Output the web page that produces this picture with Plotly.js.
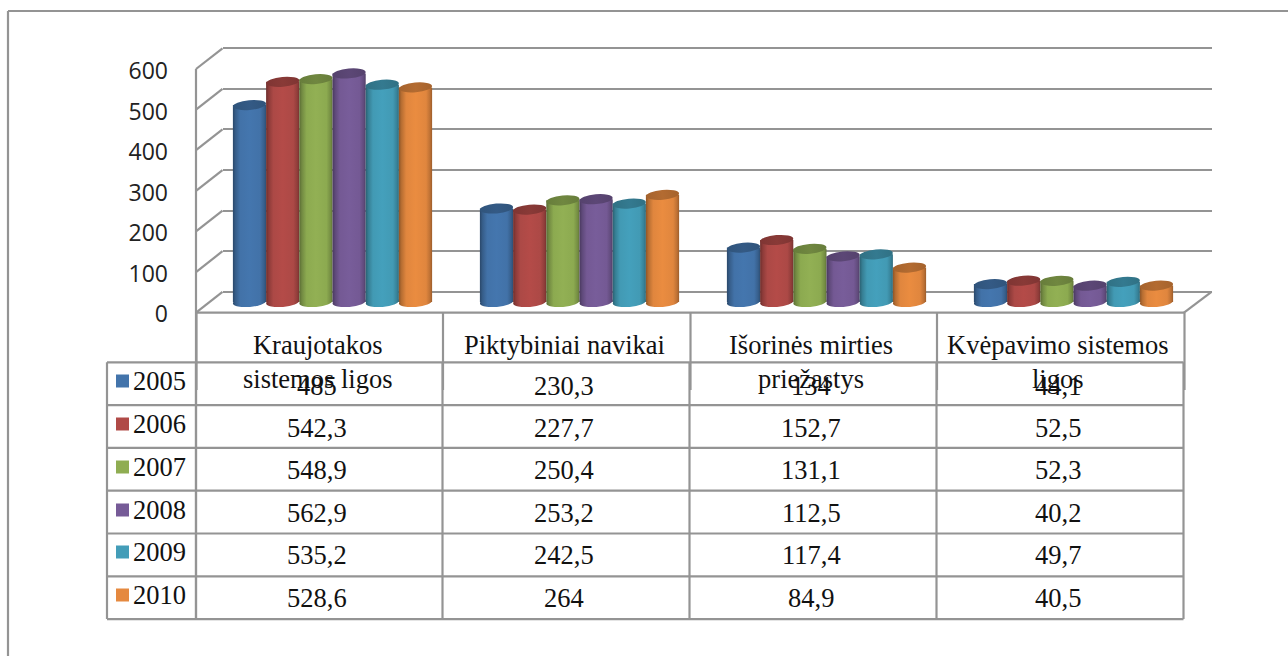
<!DOCTYPE html>
<html><head><meta charset="utf-8">
<script src="https://cdn.plot.ly/plotly-3.0.1.min.js"></script>
<style>html,body{margin:0;padding:0;background:#fff}#c{width:1288px;height:656px}</style>
</head><body><div id="c"></div>
<script>
const categories = ['Kraujotakos<br>sistemos ligos','Piktybiniai navikai','Išorinės mirties<br>priežastys','Kvėpavimo sistemos<br>ligos'];
const years = ['2005','2006','2007','2008','2009','2010'];
const v2005 = [485,230.3,134,44.1];
const v2006 = [542.3,227.7,152.7,52.5];
const v2007 = [548.9,250.4,131.1,52.3];
const v2008 = [562.9,253.2,112.5,40.2];
const v2009 = [535.2,242.5,117.4,49.7];
const v2010 = [528.6,264,84.9,40.5];
const seriesValues = [v2005,v2006,v2007,v2008,v2009,v2010];
const colors = ['#4374ab','#b04a47','#8fad52','#765b97','#439db8','#e5893f'];
const axisTicks = [0,100,200,300,400,500,600];

const W=1288,H=656;
const px=x=>x/W, py=y=>1-y/H;
const GREY='#949494';
const barW=33.2/247, ppu=40.6/100, capR=4.9/ppu;
const catKeys=['c0','c1','c2','c3'];

const traces=years.map((y,s)=>({type:'bar',name:y,x:catKeys,y:seriesValues[s],
  xaxis:'x2',yaxis:'y3',marker:{color:colors[s],line:{width:0}},hoverinfo:'skip',showlegend:false}));
// empty traces: they only make the grid and the value-label axes exist
traces.push({type:'scatter',mode:'none',x:[],y:[],xaxis:'x',yaxis:'y',showlegend:false,hoverinfo:'skip'});
traces.push({type:'scatter',mode:'none',x:[],y:[],xaxis:'x3',yaxis:'y2',showlegend:false,hoverinfo:'skip'});

const shapes=[],annotations=[];
const line=(x0,y0,x1,y1,w)=>shapes.push({type:'line',xref:'paper',yref:'paper',x0:px(x0),y0:py(y0),x1:px(x1),y1:py(y1),
  line:{color:GREY,width:w||2.2},layer:'below'});

// outer frame
line(8,11,W,11); line(8,11,8,H);
// side wall and floor
const frontY=v=>312.7-v*(312.7-69)/600, backY=v=>291.8-v*(291.8-48.3)/600;
axisTicks.forEach(v=>line(196,frontY(v),222.5,backY(v)));
line(196,69,196,619);
line(196,312.7,1184,312.7);
line(1184,312.7,1211.5,291.8);
// table
const headerX=[196.5,443,690.5,937,1184.5];
const tableX=[107,196,442.5,689.5,936.5,1183.5];
const rowY=[362.3,405.1,447.9,490.7,533.5,576.3,619.1];
headerX.forEach(x=>line(x,312.7,x,390));
tableX.forEach(x=>line(x,362.3,x,619.1));
rowY.forEach(y=>line(107,y,1183.5,y));

// cylinder ends, built from the series values
const baseIdx=[],capIdx=[];
years.forEach((y,s)=>{
  seriesValues[s].forEach((v,c)=>{
    const cx=c+(s-2.5)*barW;
    baseIdx.push([shapes.length,s]);
    shapes.push({type:'circle',xref:'x2',yref:'y3',x0:cx-barW/2,x1:cx+barW/2,y0:-capR,y1:capR,layer:'below',
      fillcolor:colors[s],line:{width:0}});
    capIdx.push([shapes.length,s]);
    shapes.push({type:'circle',xref:'x2',yref:'y3',x0:cx-barW/2,x1:cx+barW/2,y0:v-capR,y1:v+capR,layer:'above',
      fillcolor:colors[s],line:{width:0}});
  });
});

// table text
const serif={family:'"Liberation Serif",serif',size:26.5,color:'#111'};
const colCentre=[317,564,811,1058];
const txt=(x,y,t,anchor,va)=>annotations.push({xref:'paper',yref:'paper',x:px(x),y:py(y),text:t,showarrow:false,
  font:serif,xanchor:anchor||'center',yanchor:va||'middle',align:'center',borderpad:0,borderwidth:0});
categories.forEach((t,c)=>txt(colCentre[c],329.5,t,'center','top'));
const legendY=[381,424,467,510,552,595];
years.forEach((y,s)=>{
  shapes.push({type:'rect',xref:'paper',yref:'paper',x0:px(116),x1:px(129),y0:py(legendY[s]-6.5),y1:py(legendY[s]+6.5),
    fillcolor:colors[s],line:{width:0},layer:'above'});
  txt(132.5,legendY[s]-0.5,y,'left');
  seriesValues[s].forEach((v,c)=>txt(colCentre[c],385.5+42.4*s,String(v).replace('.',',')));
});

const off={visible:false,showgrid:false,zeroline:false,fixedrange:true};
const wallPx=(291.8-48.3)/600;
const layout={width:W,height:H,margin:{l:0,r:0,t:0,b:0},paper_bgcolor:'#fff',plot_bgcolor:'rgba(0,0,0,0)',
  showlegend:false,barmode:'group',bargap:1-6*barW,bargroupgap:0,shapes,annotations,
  // back wall grid; the range runs a little past 0 and 600 so those two lines are drawn
  xaxis:Object.assign({},off,{domain:[px(222.5),px(1211.5)],range:[0,1],anchor:'y'}),
  yaxis:{visible:true,domain:[py(291.8+5*wallPx),py(48.3-5*wallPx)],range:[-5,605],anchor:'x',tickvals:axisTicks,showgrid:true,gridcolor:GREY,gridwidth:2,
    zeroline:false,showline:false,showticklabels:false,ticks:'',fixedrange:true},
  // cylinders
  xaxis2:Object.assign({},off,{domain:[px(209),px(1197)],type:'category',categoryorder:'array',categoryarray:catKeys,range:[-0.5,3.5],anchor:'y3'}),
  yaxis3:Object.assign({},off,{domain:[py(302+50*ppu),py(302-650*ppu)],range:[-50,650],anchor:'x2'}),
  // value labels
  xaxis3:Object.assign({},off,{domain:[px(169),px(190)],range:[0,1],anchor:'y2'}),
  yaxis2:{visible:true,domain:[py(314),py(71)],range:[0,600],anchor:'x3',tickvals:axisTicks,ticktext:axisTicks.map(String),showgrid:false,zeroline:false,
    showline:false,ticks:'',tickfont:{family:'"Open Sans",sans-serif',size:23,color:'#222'},fixedrange:true}
};

function shade(hex,f){const n=parseInt(hex.slice(1),16);
  const c=[n>>16,(n>>8)&255,n&255].map(v=>Math.round(Math.min(255,v*f)));
  return 'rgb('+c.join(',')+')';}
Plotly.newPlot('c',traces,layout,{displayModeBar:false,staticPlot:true}).then(gd=>{
  const NS='http://www.w3.org/2000/svg';
  const svg=gd.querySelector('.main-svg');
  let defs=svg.querySelector('defs');
  const mk=(id,base,stops)=>{const g=document.createElementNS(NS,'linearGradient');
    g.setAttribute('id',id);g.setAttribute('x1','0');g.setAttribute('x2','1');g.setAttribute('y1','0');g.setAttribute('y2','0');
    stops.forEach(([o,f])=>{const st=document.createElementNS(NS,'stop');st.setAttribute('offset',o);st.setAttribute('stop-color',shade(base,f));g.appendChild(st);});
    defs.appendChild(g);};
  colors.forEach((c,s)=>{
    mk('cyl'+s,c,[[0,.62],[.08,.8],[.22,.98],[.5,1.02],[.82,.98],[.94,.82],[1,.68]]);
    mk('cap'+s,c,[[0,.72],[.5,.78],[1,.72]]);
  });
  gd.querySelectorAll('.barlayer .trace').forEach((t,s)=>{
    t.querySelectorAll('.point path').forEach(p=>{p.style.fill='url(#cyl'+s+')';});
  });
  const paint=(i,fill)=>gd.querySelectorAll('.shapelayer path[data-index="'+i+'"]').forEach(p=>{
    p.style.fill=fill; p.style.transformBox='fill-box'; p.style.transformOrigin='center'; p.style.transform='rotate(-5deg)';});
  baseIdx.forEach(([i,s])=>paint(i,'url(#cyl'+s+')'));
  capIdx.forEach(([i,s])=>paint(i,'url(#cap'+s+')'));
});
</script></body></html>
